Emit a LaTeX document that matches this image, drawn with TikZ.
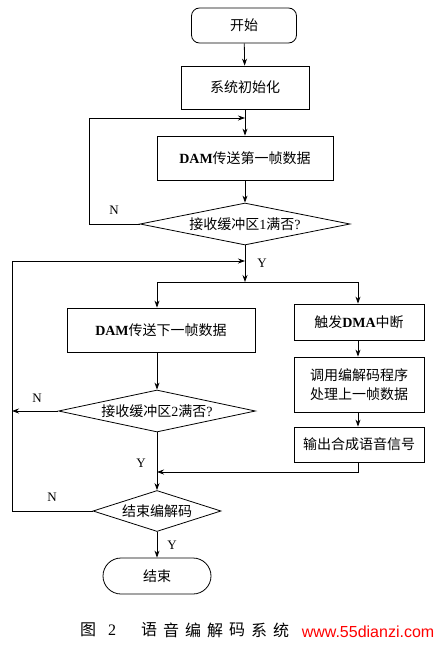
\documentclass[tikz,border=0pt]{standalone}
\usepackage{fontspec}
\setmainfont{Liberation Serif}
\newfontfamily\cjk{Noto Sans CJK SC}
\newfontfamily\wmfont{Liberation Sans}
\usetikzlibrary{arrows.meta, positioning, calc, shapes.geometric}
\newcommand{\lat}[1]{{\rmfamily #1}}
\newcommand{\latb}[1]{{\rmfamily\bfseries #1}}

\begin{document}
\begin{tikzpicture}[
  x=1pt, y=-1pt,
  proc/.style={draw, line width=0.8pt, align=center, inner sep=2pt,
               font=\cjk\fontsize{14}{19}\selectfont},
  term/.style={proc, rounded corners=8pt},
  dec/.style={proc, diamond, inner sep=0pt},
  arr/.style={-{Stealth[length=7pt, width=5pt]}, line width=0.8pt},
  lbl/.style={font=\rmfamily\fontsize{13}{15}\selectfont},
  capchar/.style={font=\cjk\fontsize{16}{18}\selectfont},
]
\useasboundingbox (0,0) rectangle (437,648);

% left column
\node[term, minimum width=105pt, minimum height=35pt] (start) at (244,25.5) {开始};
\node[proc, minimum width=128pt, minimum height=43pt] (init) at (245,87.5) {系统初始化};
\node[proc, minimum width=176pt, minimum height=44pt] (dam1) at (245,158) {\latb{DAM}传送第一帧数据};
\node[dec, aspect=5, minimum width=210pt, minimum height=42pt] (q1) at (245,224) {接收缓冲区\lat{1}满否\lat{?}};

\node[proc, minimum width=188pt, minimum height=44pt] (dam2) at (161,330) {\latb{DAM}传送下一帧数据};
\node[dec, aspect=4.7, minimum width=197pt, minimum height=42pt] (q2) at (157,411) {接收缓冲区\lat{2}满否\lat{?}};
\node[dec, aspect=3, minimum width=128pt, minimum height=41pt] (q3) at (157,511) {结束编解码};
\node[term, rounded corners=18pt, minimum width=108pt, minimum height=36pt] (end) at (157,576) {结束};

% right column
\node[proc, minimum width=130pt, minimum height=36pt] (dma) at (359,322) {触发\latb{DMA}中断};
\node[proc, minimum width=130pt, minimum height=55pt] (call) at (359,384.5) {调用编解码程序\\处理上一帧数据};
\node[proc, minimum width=130pt, minimum height=35pt] (out) at (359,444.5) {输出合成语音信号};

% helper points
\coordinate (j1) at (245,118);
\coordinate (lp1) at (89,224);
\coordinate (j2) at (245,261);
\coordinate (split) at (245,282);
\coordinate (splitL) at (157,282);
\coordinate (splitR) at (358,282);
\coordinate (q2N) at (12,411);
\coordinate (j3) at (157,472);
\coordinate (lp2) at (12,511);

\draw[arr] (start) -- (init);
\draw[arr] (init) -- (dam1);
\draw[arr] (dam1) -- (q1);
\draw[arr] (q1.west) -- (lp1) |- (j1);
\draw[arr] (q1) -- (split);
\draw[line width=0.8pt] (splitL) -- (splitR);
\draw[arr] (splitL) -- (splitL |- dam2.north);
\draw[arr] (splitR) -- (splitR |- dma.north);
\draw[arr] (q2 |- dam2.south) -- (q2);
\draw[arr] (q2.west) -- (q2N);
\draw[arr] (splitR |- dma.south) -- (splitR |- call.north);
\draw[arr] (splitR |- call.south) -- (splitR |- out.north);
\draw[arr] (q2) -- (q3);
\draw[arr] (splitR |- out.south) |- (j3);
\draw[arr] (q3.west) -- (lp2) |- (j2);
\draw[arr] (q3) -- (end);

% branch labels
\node[lbl] (n1) at (114,210) {N};
\node[lbl] (y1) at (262,263) {Y};
\node[lbl] (n2) at (37,398) {N};
\node[lbl] (y2) at (141,463) {Y};
\node[lbl] (n3) at (52,497) {N};
\node[lbl] (y3) at (172,545) {Y};

% caption (its end is hidden under the watermark)
\node[capchar] (fig) at (88,630) {图};
\node[capchar, font=\rmfamily\fontsize{16}{18}\selectfont] (fignum) at (112,630) {2};
\foreach \ch [count=\i] in {语,音,编,解,码,系,统}
  \node[capchar] (cap\i) at ({149+22*(\i-1)},630) {\ch};
\node[inner sep=1pt, text=red, font=\wmfont\fontsize{16}{18}\selectfont] (wm) at (368,632) {www.55dianzi.com};
\end{tikzpicture}
\end{document}
